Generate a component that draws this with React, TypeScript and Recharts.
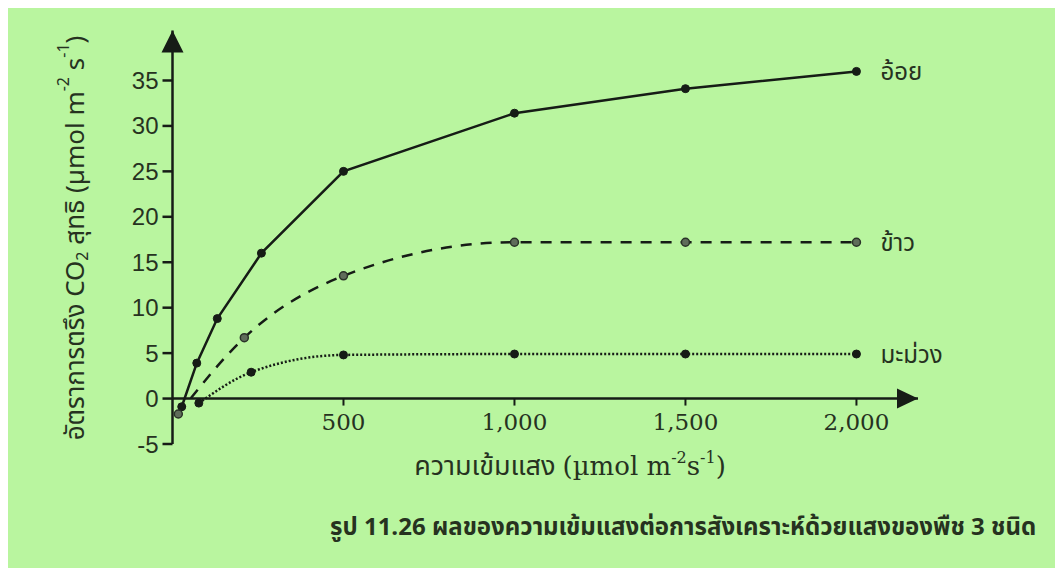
import React from 'react';
import { LineChart, Line, XAxis, YAxis, ReferenceLine, ReferenceDot, LabelList } from 'recharts';

// Light intensity (µmol m-2 s-1) and net CO2 fixation rate (µmol m-2 s-1)
const sugarcaneLight = [27, 71, 131, 260, 500, 1000, 1500, 2000];
const sugarcaneRate = [-0.9, 3.9, 8.8, 16.0, 25.0, 31.4, 34.1, 36.0];
const riceLight = [17, 210, 500, 1000, 1500, 2000];
const riceRate = [-1.7, 6.7, 13.5, 17.2, 17.2, 17.2];
const mangoLight = [77, 230, 500, 1000, 1500, 2000];
const mangoRate = [-0.5, 2.9, 4.8, 4.9, 4.9, 4.9];

const seriesNames = ['อ้อย', 'ข้าว', 'มะม่วง'];
const xTicks = [500, 1000, 1500, 2000];
const yTicks = [-5, 0, 5, 10, 15, 20, 25, 30, 35];
const X_MAX = 2180;
const Y_MIN = -5;
const Y_MAX = 40.5;
const yTitle = 'อัตราการตรึง CO';
const xTitle = 'ความเข้มแสง';
const caption = 'รูป 11.26 ผลของความเข้มแสงต่อการสังเคราะห์ด้วยแสงของพืช 3 ชนิด';

const toRows = (xs: number[], ys: number[]) => xs.map((x, i) => ({ x, y: ys[i] }));
const sugarcane = toRows(sugarcaneLight, sugarcaneRate);
const rice = toRows(riceLight, riceRate);
const mango = toRows(mangoLight, mangoRate);

const W = 1055;
const H = 560;
const MARGIN = { top: 22.5, right: 145, bottom: 94, left: 0 };
const X_AXIS_H = 30;
const Y_AXIS_W = 164.5;
const PLOT_H = H - MARGIN.top - MARGIN.bottom - X_AXIS_H;
const ZERO_OFFSET = (PLOT_H * (0 - Y_MIN)) / (Y_MAX - Y_MIN);

const BG = '#b9f59f';
const INK = '#161c16';
const TEXT = '#26321f';
const THAI = "'Noto Sans Thai', 'Noto Sans', 'Liberation Sans', sans-serif";
const SERIF = "'DejaVu Serif', 'Liberation Serif', serif";
const SANS = "'Liberation Sans', Arial, sans-serif";

const fmt = (v: number) => v.toLocaleString('en-US');

const XTick = (props: any) => {
  const { x, y, payload } = props;
  const zy = y - ZERO_OFFSET;
  return (
    <g>
      <line x1={x} x2={x} y1={zy} y2={zy + 7} stroke={INK} strokeWidth={2} />
      <text x={x} y={zy + 31} textAnchor="middle" fontFamily={SERIF} fontSize={23} fill={TEXT}>
        {fmt(payload.value)}
      </text>
    </g>
  );
};

const makeEndLabel = (name: string, count: number) => (props: any) => {
  const { x, y, index } = props;
  if (index !== count - 1) return null;
  return (
    <text x={x + 24} y={y + 9} fontFamily={THAI} fontSize={24} fill={TEXT}>
      {name}
    </text>
  );
};

const YTitle = () => {
  const cx = 68;
  const cy = 230;
  return (
    <text
      x={cx}
      y={cy}
      transform={`rotate(-90, ${cx}, ${cy})`}
      textAnchor="middle"
      dominantBaseline="central"
      fontFamily={THAI}
      fontSize={26}
      fill={TEXT}
    >
      <tspan>{yTitle}</tspan>
      <tspan fontSize={16} dy={7}>2</tspan>
      <tspan dy={-7}> สุทธิ (µmol m</tspan>
      <tspan fontSize={16} dy={-12}>-2</tspan>
      <tspan dy={12}> s</tspan>
      <tspan fontSize={16} dy={-12}>-1</tspan>
      <tspan dy={12}>)</tspan>
    </text>
  );
};

const XTitle = () => {
  const cx = 562;
  const cy = 467;
  return (
    <text x={cx} y={cy} textAnchor="middle" fill={TEXT}>
      <tspan fontFamily={THAI} fontSize={27}>{xTitle} </tspan>
      <tspan fontFamily={SERIF} fontSize={26}>(µmol m</tspan>
      <tspan fontFamily={SERIF} fontSize={16} dy={-12}>-2</tspan>
      <tspan fontFamily={SERIF} fontSize={26} dy={12}>s</tspan>
      <tspan fontFamily={SERIF} fontSize={16} dy={-12}>-1</tspan>
      <tspan fontFamily={SERIF} fontSize={26} dy={12}>)</tspan>
    </text>
  );
};

const UpArrow = (p: any) => (
  <path d={`M${p.cx},${p.cy} L${p.cx - 11},${p.cy + 22} L${p.cx + 11},${p.cy + 22} Z`} fill={INK} />
);
const RightArrow = (p: any) => (
  <path d={`M${p.cx},${p.cy} L${p.cx - 21},${p.cy - 10} L${p.cx - 21},${p.cy + 10} Z`} fill={INK} />
);

export default function App() {
  return (
    <div style={{ position: 'relative', width: W, height: H, background: BG }}>
      <LineChart width={W} height={H} margin={MARGIN}>
        <XAxis
          type="number"
          dataKey="x"
          domain={[0, X_MAX]}
          ticks={xTicks}
          axisLine={false}
          tickLine={false}
          tickSize={0}
          tickMargin={0}
          height={X_AXIS_H}
          tick={<XTick />}
          allowDataOverflow
          label={{ content: () => <XTitle /> }}
        />
        <YAxis
          type="number"
          dataKey="y"
          domain={[Y_MIN, Y_MAX]}
          ticks={yTicks}
          width={Y_AXIS_W}
          axisLine={{ stroke: INK, strokeWidth: 2.5 }}
          tickLine={{ stroke: INK, strokeWidth: 2.5 }}
          tickSize={10}
          tickMargin={4}
          tick={{ fontFamily: SANS, fontSize: 24, fill: TEXT }}
          allowDataOverflow
          label={{ content: () => <YTitle /> }}
        />
        <ReferenceLine y={0} stroke={INK} strokeWidth={2.5} ifOverflow="visible" />
        <ReferenceDot x={0} y={Y_MAX} r={0} shape={UpArrow} ifOverflow="visible" />
        <ReferenceDot x={X_MAX} y={0} r={0} shape={RightArrow} ifOverflow="visible" />
        <Line
          data={sugarcane}
          dataKey="y"
          type="linear"
          stroke={INK}
          strokeWidth={2.5}
          dot={{ r: 4, fill: INK, stroke: INK, strokeWidth: 1, strokeDasharray: 'none' }}
          isAnimationActive={false}
        >
          <LabelList dataKey="y" content={makeEndLabel(seriesNames[0], sugarcane.length)} />
        </Line>
        <Line
          data={rice}
          dataKey="y"
          type="monotone"
          stroke={INK}
          strokeWidth={2.5}
          strokeDasharray="11 9"
          dot={{ r: 4, fill: '#5f6d5a', stroke: '#2a3328', strokeWidth: 1.5, strokeDasharray: 'none' }}
          isAnimationActive={false}
        >
          <LabelList dataKey="y" content={makeEndLabel(seriesNames[1], rice.length)} />
        </Line>
        <Line
          data={mango}
          dataKey="y"
          type="monotone"
          stroke={INK}
          strokeWidth={2.5}
          strokeDasharray="2 2"
          dot={{ r: 4, fill: INK, stroke: INK, strokeWidth: 1, strokeDasharray: 'none' }}
          isAnimationActive={false}
        >
          <LabelList dataKey="y" content={makeEndLabel(seriesNames[2], mango.length)} />
        </Line>
      </LineChart>
      <div
        style={{
          position: 'absolute',
          left: 322,
          top: 502,
          fontFamily: THAI,
          fontWeight: 'bold',
          fontSize: 24,
          color: TEXT,
          whiteSpace: 'nowrap',
        }}
      >
        {caption}
      </div>
    </div>
  );
}
